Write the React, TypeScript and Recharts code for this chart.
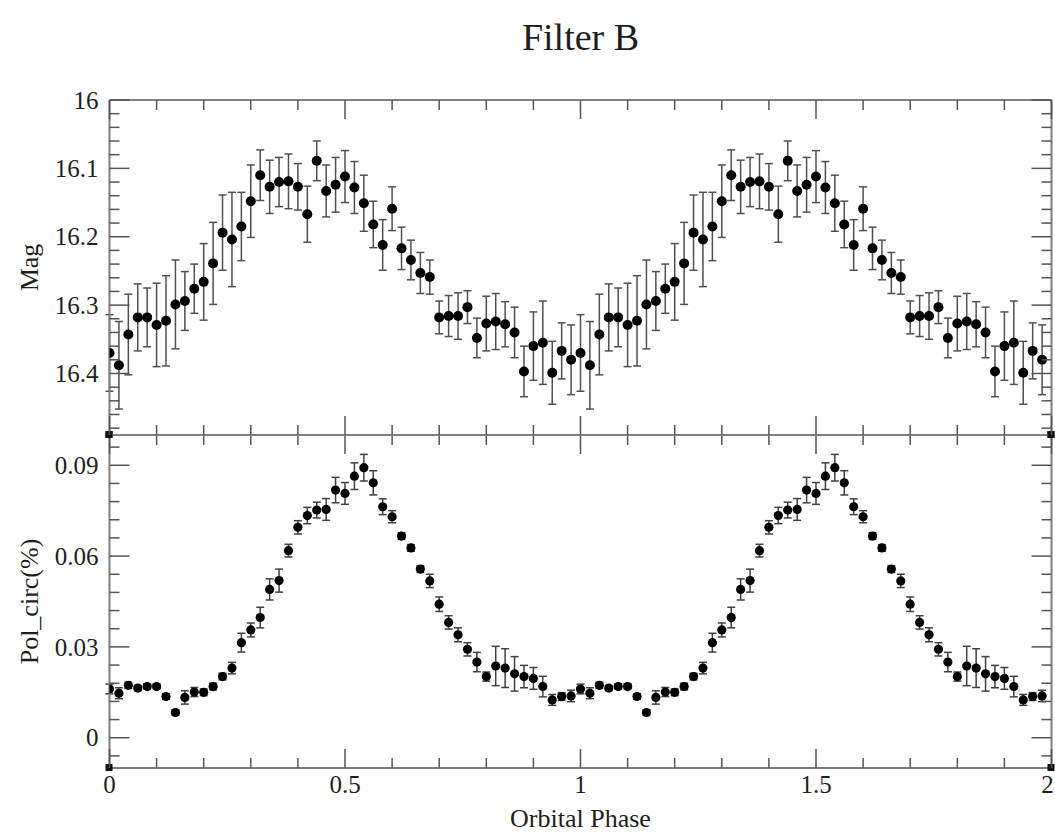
import React from 'react';
import { ScatterChart, Scatter, XAxis, YAxis, ErrorBar, ReferenceDot, Label } from 'recharts';

// One orbital cycle of folded photometry / polarimetry, plotted twice (phase 0-2).
const phases = [
  0.0, 0.02, 0.04, 0.06, 0.08, 0.1, 0.12, 0.14, 0.16, 0.18,
  0.2, 0.22, 0.24, 0.26, 0.28, 0.3, 0.32, 0.34, 0.36, 0.38,
  0.4, 0.42, 0.44, 0.46, 0.48, 0.5, 0.52, 0.54, 0.56, 0.58,
  0.6, 0.62, 0.64, 0.66, 0.68, 0.7, 0.72, 0.74, 0.76, 0.78,
  0.8, 0.82, 0.84, 0.86, 0.88, 0.9, 0.92, 0.94, 0.96, 0.98,
];

const magValues = [
  16.370, 16.388, 16.343, 16.318, 16.318, 16.329, 16.323, 16.299, 16.294, 16.276,
  16.266, 16.239, 16.194, 16.204, 16.185, 16.148, 16.110, 16.127, 16.120, 16.119,
  16.127, 16.167, 16.089, 16.133, 16.124, 16.112, 16.128, 16.151, 16.182, 16.212,
  16.159, 16.217, 16.234, 16.253, 16.259, 16.318, 16.316, 16.316, 16.303, 16.348,
  16.327, 16.324, 16.328, 16.340, 16.397, 16.360, 16.355, 16.399, 16.367, 16.380,
];

const magErrors = [
  0.056, 0.064, 0.059, 0.049, 0.043, 0.061, 0.066, 0.065, 0.043, 0.036,
  0.056, 0.060, 0.055, 0.069, 0.050, 0.053, 0.037, 0.039, 0.036, 0.040,
  0.034, 0.041, 0.029, 0.038, 0.040, 0.038, 0.038, 0.041, 0.034, 0.037,
  0.032, 0.031, 0.029, 0.030, 0.025, 0.024, 0.030, 0.034, 0.024, 0.029,
  0.040, 0.041, 0.033, 0.037, 0.037, 0.050, 0.061, 0.046, 0.041, 0.051,
];

const polValues = [
  0.0161, 0.0147, 0.0173, 0.0164, 0.0169, 0.0169, 0.0136, 0.0083, 0.0133, 0.0151,
  0.0150, 0.0169, 0.0202, 0.0230, 0.0314, 0.0356, 0.0397, 0.0490, 0.0519, 0.0618,
  0.0695, 0.0734, 0.0752, 0.0754, 0.0818, 0.0807, 0.0864, 0.0892, 0.0842, 0.0763,
  0.0730, 0.0666, 0.0627, 0.0557, 0.0518, 0.0441, 0.0381, 0.0340, 0.0292, 0.0250,
  0.0202, 0.0237, 0.0230, 0.0211, 0.0202, 0.0196, 0.0169, 0.0125, 0.0136, 0.0138,
];

const polErrors = [
  0.0016, 0.0018, 0.0010, 0.0008, 0.0008, 0.0008, 0.0009, 0.0009, 0.0022, 0.0015,
  0.0011, 0.0011, 0.0011, 0.0019, 0.0031, 0.0023, 0.0034, 0.0035, 0.0038, 0.0021,
  0.0022, 0.0027, 0.0026, 0.0036, 0.0042, 0.0036, 0.0044, 0.0044, 0.0040, 0.0026,
  0.0020, 0.0011, 0.0011, 0.0011, 0.0022, 0.0024, 0.0022, 0.0023, 0.0022, 0.0032,
  0.0015, 0.0065, 0.0064, 0.0057, 0.0037, 0.0036, 0.0034, 0.0018, 0.0013, 0.0019,
];

const cycles = [0, 1];

const phaseTicks = [
  0, 0.1, 0.2, 0.3, 0.4, 0.5, 0.6, 0.7, 0.8, 0.9, 1,
  1.1, 1.2, 1.3, 1.4, 1.5, 1.6, 1.7, 1.8, 1.9, 2,
];
const phaseLabels = [0, 0.5, 1, 1.5, 2];

const magTicks = [
  16, 16.02, 16.04, 16.06, 16.08, 16.1, 16.12, 16.14, 16.16, 16.18, 16.2, 16.22, 16.24,
  16.26, 16.28, 16.3, 16.32, 16.34, 16.36, 16.38, 16.4, 16.42, 16.44, 16.46, 16.48,
];
const magLabels = [16, 16.1, 16.2, 16.3, 16.4];

const polTicks = [
  -0.006, 0, 0.006, 0.012, 0.018, 0.024, 0.03, 0.036, 0.042, 0.048,
  0.054, 0.06, 0.066, 0.072, 0.078, 0.084, 0.09, 0.096,
];
const polLabels = [0, 0.03, 0.06, 0.09];

const magDomain: [number, number] = [16, 16.49];
const polDomain: [number, number] = [-0.01, 0.1];
const phaseDomain: [number, number] = [0, 2];

const magData = cycles.flatMap((c) =>
  phases.map((p, i) => ({ phase: +(p + c).toFixed(2), mag: magValues[i], err: magErrors[i] }))
);
const polData = cycles.flatMap((c) =>
  phases.map((p, i) => ({ phase: +(p + c).toFixed(2), pol: polValues[i], err: polErrors[i] }))
);

const FONT = '"Liberation Serif", "Times New Roman", Times, serif';
const TEXT = '#1e1e1e';
const TICK = '#555';
const FRAME = { stroke: '#808080', strokeWidth: 2 };
const W = 1055;
const LEFT = 109.5;
const RIGHT_EDGE = 1051.5;

const inList = (list: number[], v: number) => list.some((t) => Math.abs(t - v) < 1e-9);

const xTick = (side: 'top' | 'bottom', showLabels: boolean) => (props: any) => {
  const { x, y, payload } = props;
  const v = payload.value as number;
  const major = inList(phaseLabels, v);
  const len = major ? 19 : 10;
  const dir = side === 'bottom' ? -1 : 1;
  // keep the last label inside the page edge
  const dx = v === phaseDomain[1] ? -4 : 0;
  return (
    <g>
      <line x1={x} y1={y} x2={x} y2={y + dir * len} stroke={TICK} strokeWidth={1.5} />
      {showLabels && major && (
        <text x={x + dx} y={y + 25} textAnchor="middle" fontFamily={FONT} fontSize={25} fill={TEXT}>
          {String(v)}
        </text>
      )}
    </g>
  );
};

const yTick = (side: 'left' | 'right', labels: number[]) => (props: any) => {
  const { x, y, payload } = props;
  const v = payload.value as number;
  const major = inList(labels, v);
  const len = major ? 20 : 10;
  const dir = side === 'left' ? 1 : -1;
  return (
    <g>
      <line x1={x} y1={y} x2={x + dir * len} y2={y} stroke={TICK} strokeWidth={1.5} />
      {side === 'left' && major && (
        <text x={x - 11} y={y} dy="0.35em" textAnchor="end" fontFamily={FONT} fontSize={25} fill={TEXT}>
          {String(v)}
        </text>
      )}
    </g>
  );
};

const yTitle = (text: string) => (props: any) => {
  const vb = props.viewBox || {};
  const cx = 29;
  const cy = (vb.y ?? 0) + (vb.height ?? 0) / 2;
  return (
    <text
      x={cx}
      y={cy}
      transform={`rotate(-90 ${cx} ${cy})`}
      textAnchor="middle"
      dominantBaseline="central"
      fontFamily={FONT}
      fontSize={26}
      fill={TEXT}
    >
      {text}
    </text>
  );
};

const xTitle = (text: string) => (props: any) => {
  const vb = props.viewBox || {};
  const cx = (vb.x ?? 0) + (vb.width ?? 0) / 2;
  const cy = (vb.y ?? 0) + 59;
  return (
    <text x={cx} y={cy} textAnchor="middle" fontFamily={FONT} fontSize={26} fill={TEXT}>
      {text}
    </text>
  );
};

const dot = (r: number) => (props: any) => (
  <circle cx={props.cx} cy={props.cy} r={r} fill="#000" />
);

const cornerMark = (props: any) => (
  <rect x={props.cx - 4} y={props.cy - 4} width={7} height={7} fill="#111" />
);

// Shared frame axes: ticks point inward on all four sides; axis sizes of 1px keep
// the plot area exactly on the frame while still letting the axes render.
function frameAxes(yKey: string, domain: [number, number], ticks: number[], labels: number[], reversed: boolean, xLabels: boolean) {
  return [
    <XAxis
      key="xb"
      xAxisId="b"
      type="number"
      dataKey="phase"
      domain={phaseDomain}
      ticks={phaseTicks}
      interval={0}
      height={1}
      tickSize={0}
      tickMargin={0}
      tickLine={false}
      axisLine={FRAME}
      tick={xTick('bottom', xLabels)}
      allowDataOverflow
    >
      {xLabels && <Label content={xTitle('Orbital Phase')} />}
    </XAxis>,
    <XAxis
      key="xt"
      xAxisId="t"
      orientation="top"
      type="number"
      dataKey="phase"
      domain={phaseDomain}
      ticks={phaseTicks}
      interval={0}
      height={1}
      tickSize={0}
      tickMargin={0}
      tickLine={false}
      axisLine={FRAME}
      tick={xTick('top', false)}
      allowDataOverflow
    />,
    <YAxis
      key="yl"
      yAxisId="l"
      type="number"
      dataKey={yKey}
      reversed={reversed}
      domain={domain}
      ticks={ticks}
      interval={0}
      width={LEFT}
      tickSize={0}
      tickMargin={0}
      tickLine={false}
      axisLine={FRAME}
      tick={yTick('left', labels)}
      allowDataOverflow
    >
      <Label content={yTitle(yKey === 'mag' ? 'Mag' : 'Pol_circ(%)')} />
    </YAxis>,
    <YAxis
      key="yr"
      yAxisId="r"
      orientation="right"
      type="number"
      dataKey={yKey}
      reversed={reversed}
      domain={domain}
      ticks={ticks}
      interval={0}
      width={1}
      tickSize={0}
      tickMargin={0}
      tickLine={false}
      axisLine={FRAME}
      tick={yTick('right', labels)}
      allowDataOverflow
    />,
  ];
}

function MagPanel() {
  return (
    <ScatterChart width={W} height={440} margin={{ top: 99, right: W - RIGHT_EDGE - 1, bottom: 4, left: 0 }}>
      {frameAxes('mag', magDomain, magTicks, magLabels, true, false)}
      <Scatter
        data={magData}
        dataKey="mag"
        xAxisId="b"
        yAxisId="l"
        shape={dot(5)}
        isAnimationActive={false}
      >
        <ErrorBar dataKey="err" direction="y" width={4} stroke="#505050" strokeWidth={1.5} />
      </Scatter>
      <ReferenceDot x={0} y={magDomain[1]} xAxisId="b" yAxisId="l" ifOverflow="visible" shape={cornerMark} />
      <ReferenceDot x={2} y={magDomain[1]} xAxisId="b" yAxisId="l" ifOverflow="visible" shape={cornerMark} />
    </ScatterChart>
  );
}

function PolPanel() {
  return (
    <ScatterChart width={W} height={835} margin={{ top: 434, right: W - RIGHT_EDGE - 1, bottom: 66, left: 0 }}>
      {frameAxes('pol', polDomain, polTicks, polLabels, false, true)}
      <Scatter
        data={polData}
        dataKey="pol"
        xAxisId="b"
        yAxisId="l"
        shape={dot(4.6)}
        isAnimationActive={false}
      >
        <ErrorBar dataKey="err" direction="y" width={4} stroke="#404040" strokeWidth={1.5} />
      </Scatter>
      <ReferenceDot x={0} y={polDomain[1]} xAxisId="b" yAxisId="l" ifOverflow="visible" shape={cornerMark} />
      <ReferenceDot x={2} y={polDomain[1]} xAxisId="b" yAxisId="l" ifOverflow="visible" shape={cornerMark} />
      <ReferenceDot x={0} y={polDomain[0]} xAxisId="b" yAxisId="l" ifOverflow="visible" shape={cornerMark} />
      <ReferenceDot x={2} y={polDomain[0]} xAxisId="b" yAxisId="l" ifOverflow="visible" shape={cornerMark} />
    </ScatterChart>
  );
}

export default function App() {
  return (
    <div style={{ position: 'absolute', left: 0, top: 0, width: W, height: 835, background: '#fff', overflow: 'hidden' }}>
      <div style={{ position: 'absolute', left: 0, top: 0 }}>
        <PolPanel />
      </div>
      <div style={{ position: 'absolute', left: 0, top: 0 }}>
        <MagPanel />
      </div>
      <div
        style={{
          position: 'absolute',
          left: LEFT,
          top: 16,
          width: RIGHT_EDGE - LEFT,
          textAlign: 'center',
          fontFamily: FONT,
          fontSize: 38,
          lineHeight: '42px',
          color: TEXT,
        }}
      >
        Filter B
      </div>
    </div>
  );
}
